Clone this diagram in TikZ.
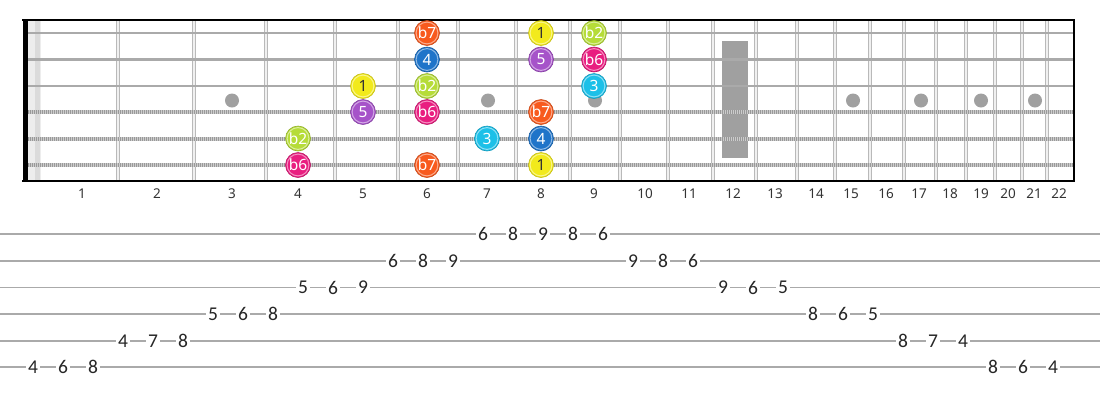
\documentclass[tikz,border=0pt]{standalone}
\usepackage{fontspec}
\setmainfont{Noto Sans}
\newfontfamily\tabfont{Carlito}
\definecolor{cbseven}{HTML}{F85A1E}
\definecolor{cfour}{HTML}{1F74C9}
\definecolor{cone}{HTML}{F2EA1C}
\definecolor{cbtwo}{HTML}{B6DC38}
\definecolor{cfive}{HTML}{A653C9}
\definecolor{cbsix}{HTML}{E91E80}
\definecolor{cthree}{HTML}{1CC0E8}
\definecolor{strgray}{HTML}{AAAAAA}
\definecolor{inlaygray}{HTML}{A0A0A0}
\begin{document}
\begin{tikzpicture}[x=1pt,y=-1pt,
  fretouter/.style={draw=gray!55,line width=4.6pt},
  fretinner/.style={draw=gray!12,line width=1.6pt},
  plainstr/.style={draw=strgray,line width=2.4pt},
  woundbase/.style={draw=gray!40,line width=4pt},
  woundtex/.style={draw=gray!80,line width=4pt,dash pattern=on 1pt off 1pt},
  inlay/.style={fill=inlaygray},
  border/.style={draw=black,line width=2pt},
  notedot/.style 2 args={circle,fill=#1,draw=#1!80!black,line width=0.6pt,
    minimum size=25pt,inner sep=0pt,text=#2,
    font=\fontsize{15.5}{15.5}\selectfont,
    path picture={\draw[#1!50!white,line width=1pt] (path picture bounding box.center) circle (10.9pt);}},
  fretnum/.style={font=\fontsize{13.5}{13.5}\selectfont,text=black!80,inner sep=0pt},
  tabline/.style={draw=strgray,line width=1.8pt},
  tabnum/.style={font=\tabfont\fontsize{19.5}{19.5}\selectfont,fill=white,inner xsep=2pt,inner ysep=1pt,text=black!85}
]
\useasboundingbox (0,0) rectangle (1100,400);
% nut
\fill[gray!14] (28,20) rectangle (41,181);
\fill[gray!28] (35,20) rectangle (40,181);
\fill[black] (23,20) rectangle (28,181);
% frets
\foreach \x in {118,194,266,335,398,458,516,570,620,668,713,756,797,835,870,904,936,966,995,1022,1047} {
  \draw[fretouter] (\x,20) -- (\x,181);
  \draw[fretinner] (\x,20) -- (\x,181);
}
% inlays
\foreach \x in {232,488,595,853,921,981,1035} \fill[inlay] (\x,100.5) circle (7);
\fill[inlay] (722,41) rectangle (748,158);
% strings
\foreach \y in {33,59.5,86} \draw[plainstr] (28,\y) -- (1074,\y);
\foreach \y in {112,138.5,165} {
  \draw[woundbase] (28,\y) -- (1074,\y);
  \draw[woundtex] (28,\y) -- (1074,\y);
}
% borders
\draw[border] (22,20) -- (1075,20);
\draw[draw=black,line width=1pt] (911,19.5) -- (1021,19.5);
\draw[border] (22,181) -- (1075,181);
\draw[border] (1074,19) -- (1074,182);
% notes
\foreach \n/\x/\y/\l/\c/\t in {
  a/427/33/b7/cbseven/white, b/541/33/1/cone/black!80, c/594/33/b2/cbtwo/white,
  d/427/59.5/4/cfour/white, e/541/59.5/5/cfive/white, f/594/59.5/b6/cbsix/white,
  g/363/86/1/cone/black!80, h/427/86/b2/cbtwo/white, i/594/86/3/cthree/white,
  j/363/112/5/cfive/white, k/427/112/b6/cbsix/white, l/541/112/b7/cbseven/white,
  m/298/138.5/b2/cbtwo/white, n/487/138.5/3/cthree/white, o/541/138.5/4/cfour/white,
  p/298/165/b6/cbsix/white, q/427/165/b7/cbseven/white, r/541/165/1/cone/black!80}
  \node[notedot={\c}{\t}] (note\n) at (\x,\y) {\l};
% fret numbers
\foreach \x [count=\i] in {82,157,232,298,363,427,487,541,594,645,689,733,775,816,851,886,919,950,981,1008,1034,1059}
  \node[fretnum] (fret\i) at (\x,194) {\i};
% tab lines
\foreach \y in {234,261,287.5,314,341,367} \draw[tabline] (0,\y) -- (1100,\y);
% tab numbers
\foreach \k/\y/\d in {
  0/367/4, 1/367/6, 2/367/8,
  3/341/4, 4/341/7, 5/341/8,
  6/314/5, 7/314/6, 8/314/8,
  9/287.5/5, 10/287.5/6, 11/287.5/9,
  12/261/6, 13/261/8, 14/261/9,
  15/234/6, 16/234/8, 17/234/9, 18/234/8, 19/234/6,
  20/261/9, 21/261/8, 22/261/6,
  23/287.5/9, 24/287.5/6, 25/287.5/5,
  26/314/8, 27/314/6, 28/314/5,
  29/341/8, 30/341/7, 31/341/4,
  32/367/8, 33/367/6, 34/367/4}
  \node[tabnum] (tab\k) at ({33+30*\k},\y) {\d};
\end{tikzpicture}
\end{document}
